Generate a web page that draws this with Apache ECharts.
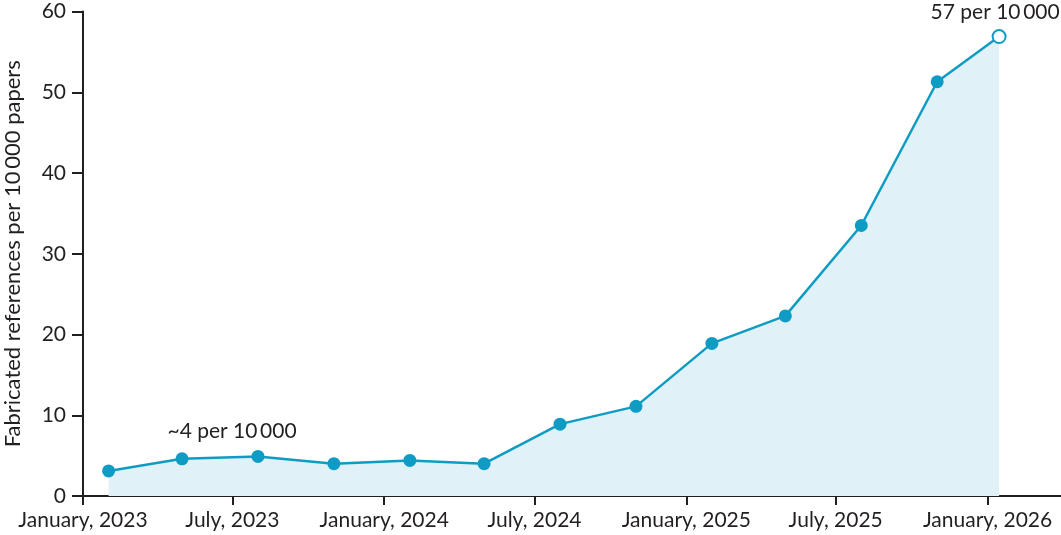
<!DOCTYPE html>
<html lang="en">
<head>
    <meta charset="UTF-8">
    <title>Fabricated references</title>
    <style>
        html, body {
            margin: 0;
            padding: 0;
            background: #fff;
        }

        #chart {
            width: 1061px;
            height: 535px;
        }
    </style>
</head>
<body>
<div id="chart"></div>
<script src="https://cdn.jsdelivr.net/npm/echarts@6/dist/echarts.min.js"></script>
<script>

    // quarterly measurements, last one is a partial reading
    var dates = ['2023-02-01', '2023-05-01', '2023-08-01', '2023-11-01',
        '2024-02-01', '2024-05-01', '2024-08-01', '2024-11-01',
        '2025-02-01', '2025-05-01', '2025-08-01', '2025-11-01', '2026-01-15'];
    var values = [3.1, 4.6, 4.9, 4.0, 4.4, 4.0, 8.9, 11.1, 18.9, 22.3, 33.5, 51.3, 56.9];
    var tickDates = ['2023-01-01', '2023-07-01', '2024-01-01', '2024-07-01',
        '2025-01-01', '2025-07-01', '2026-01-01'];
    var months = ['January', 'February', 'March', 'April', 'May', 'June',
        'July', 'August', 'September', 'October', 'November', 'December'];

    var blue = '#0f9cc4';
    var ink = '#231f20';
    var font = 'Lato';

    var ts = function (s) {
        var p = s.split('-');
        return Date.UTC(+p[0], +p[1] - 1, +p[2]);
    };
    var tickValues = tickDates.map(ts);

    var data = dates.map(function (d, i) {
        var item = {value: [ts(d), values[i]]};
        if (i === 1) {
            item.label = {
                show: true,
                position: 'top',
                offset: [50, -6],
                formatter: '~4 per 10\u2009000'
            };
        }
        if (i === dates.length - 1) {
            item.itemStyle = {color: '#fff', borderColor: blue, borderWidth: 2};
            item.symbolSize = 13;
            item.label = {
                show: true,
                position: 'top',
                distance: 6,
                offset: [-4, 0],
                formatter: '57 per 10\u2009000'
            };
        }
        return item;
    });

    var option = {
        animation: false,
        grid: {
            left: 83,
            right: 0,
            top: 11.5,
            bottom: 39,
            containLabel: false,
            outerBoundsMode: 'none'
        },
        xAxis: {
            type: 'value',
            min: ts('2023-01-01'),
            max: ts('2026-03-31'),
            splitLine: {show: false},
            axisLine: {lineStyle: {color: ink, width: 2}},
            axisTick: {
                show: true,
                length: 9,
                customValues: tickValues,
                lineStyle: {color: ink, width: 2}
            },
            axisLabel: {
                customValues: tickValues,
                margin: 14,
                color: ink,
                fontFamily: font,
                fontSize: 21,
                formatter: function (v) {
                    var d = new Date(v);
                    return months[d.getUTCMonth()] + ', ' + d.getUTCFullYear();
                }
            }
        },
        yAxis: {
            type: 'value',
            min: 0,
            max: 60,
            interval: 10,
            name: 'Fabricated references per 10\u2009000 papers',
            nameLocation: 'middle',
            nameGap: 59,
            nameTextStyle: {color: ink, fontFamily: font, fontSize: 22},
            splitLine: {show: false},
            axisLine: {show: true, lineStyle: {color: ink, width: 2}},
            axisTick: {show: true, length: 11, lineStyle: {color: ink, width: 2}},
            axisLabel: {
                margin: 17,
                color: ink,
                fontFamily: font,
                fontSize: 21
            }
        },
        series: [
            {
                type: 'line',
                data: data,
                symbol: 'circle',
                symbolSize: 13,
                showAllSymbol: true,
                lineStyle: {color: blue, width: 2.5},
                itemStyle: {color: blue},
                areaStyle: {color: '#e0f1f8', opacity: 1},
                label: {
                    color: ink,
                    fontFamily: font,
                    fontSize: 21
                },
                z: 3
            }
        ]
    };

    var myChart = echarts.init(document.getElementById('chart'));
    myChart.setOption(option);
</script>
</body>
</html>
